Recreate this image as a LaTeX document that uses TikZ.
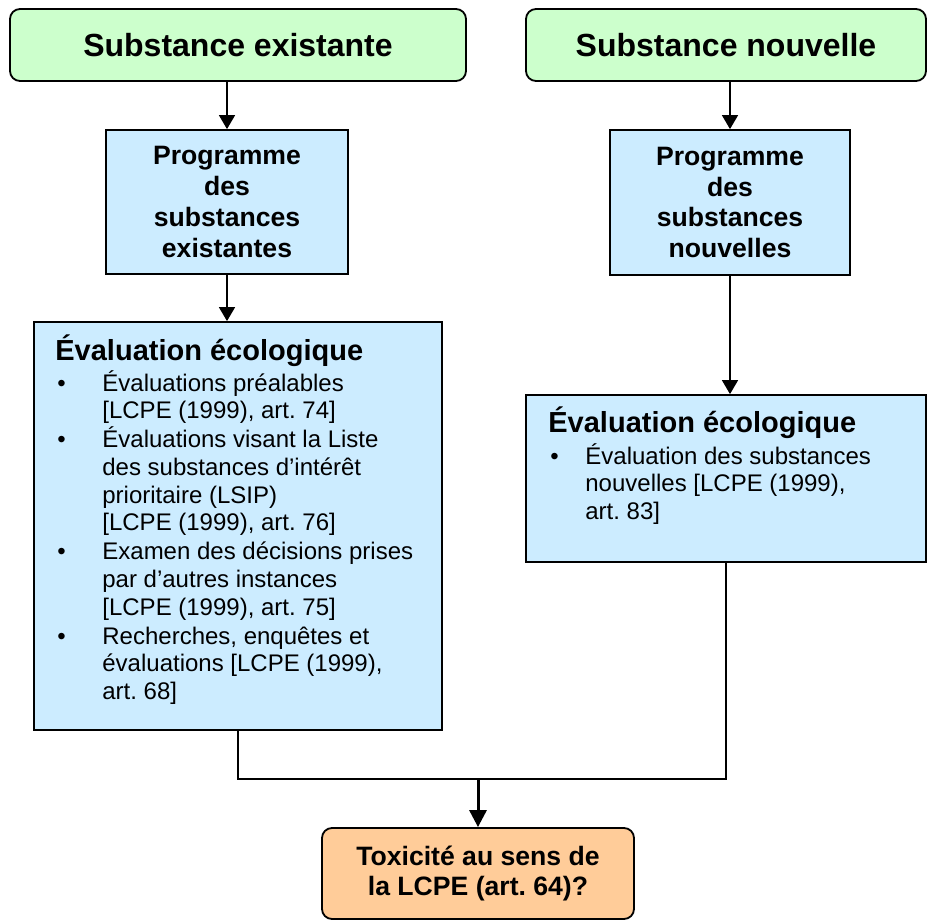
\documentclass[tikz,border=0pt]{standalone}
\usepackage{fontspec}
\setmainfont{Liberation Sans}
\usepackage{enumitem}
\usetikzlibrary{arrows.meta}
\usetikzlibrary{positioning}
\frenchspacing
\definecolor{mgreen}{HTML}{CCFFCC}
\definecolor{mblue}{HTML}{CCECFF}
\definecolor{morange}{HTML}{FFCC99}
\tikzset{startbox/.style = {draw, line width=0.9pt, rounded corners=5pt, fill=mgreen,
                            inner sep=0pt, font=\fontsize{16}{18}\selectfont\bfseries},
         progbox/.style = {draw, line width=0.9pt, fill=mblue, inner sep=0pt, align=center,
                           font=\fontsize{13.3}{15.4}\selectfont\bfseries},
         evalbox/.style = {draw, line width=0.9pt, fill=mblue, inner sep=0pt},
         endbox/.style = {draw, line width=0.9pt, rounded corners=5pt, fill=morange,
                          inner sep=0pt, align=center,
                          font=\fontsize{13.3}{15.4}\selectfont\bfseries},
         evaltext/.style = {anchor=base west, inner sep=0pt,
                            font=\fontsize{12}{13.85}\selectfont},
         flow/.style = {line width=0.8pt, -{Triangle[width=8pt, length=7pt]}},
         merge/.style = {line width=1.5pt, -{Triangle[width=8.5pt, length=8.5pt]}},
         link/.style = {line width=0.8pt}}
\newcommand{\evalhead}{{\fontsize{14.5}{16}\selectfont\bfseries Évaluation écologique}}

\begin{document}
\begin{tikzpicture}[x=0.5pt, y=-0.5pt]
    \useasboundingbox (0,0) rectangle (927,920);

    \node [startbox, minimum width=228pt, minimum height=36pt] (exist) at (238,45) {Substance existante};
    \node [startbox, minimum width=200pt, minimum height=36pt] (nouv) at (726,45) {Substance nouvelle};

    \node [progbox, minimum width=121pt, minimum height=72pt] (progexist) at (227,202)
          {Programme\\des\\substances\\existantes};
    \node [progbox, minimum width=120pt, minimum height=72.5pt] (prognouv) at (730,202.5)
          {Programme\\des\\substances\\nouvelles};

    \node [evalbox, minimum width=204pt, minimum height=204pt] (evalexist) at (238,526) {};
    \node [evalbox, minimum width=200pt, minimum height=83.5pt] (evalnouv) at (726,478.5) {};

    \node [evaltext] (evalexisttxt) at (55,360) {\parbox[t]{185pt}{\raggedright\evalhead
      \begin{itemize}[label=\textbullet, leftmargin=23.5pt, labelwidth=22.5pt, labelsep=0pt,
                      align=left, itemsep=0.6pt, topsep=1.7pt, parsep=0pt, partopsep=0pt]
        \item Évaluations préalables\newline [LCPE (1999), art. 74]
        \item Évaluations visant la Liste\newline des substances d’intérêt\newline
              prioritaire (LSIP)\newline [LCPE (1999), art. 76]
        \item Examen des décisions prises\newline par d’autres instances\newline
              [LCPE (1999), art. 75]
        \item Recherches, enquêtes et\newline évaluations [LCPE (1999),\newline art. 68]
      \end{itemize}}};
    \node [evaltext] (evalnouvtxt) at (548,432) {\parbox[t]{185pt}{\raggedright\evalhead
      \begin{itemize}[label=\textbullet, leftmargin=18.5pt, labelwidth=17.5pt, labelsep=0pt,
                      align=left, itemsep=0.6pt, topsep=2.2pt, parsep=0pt, partopsep=0pt]
        \item Évaluation des substances\newline nouvelles [LCPE (1999),\newline art. 83]
      \end{itemize}}};

    \node [endbox, minimum width=156pt, minimum height=45.5pt] (toxic) at (478,873.5)
          {Toxicité au sens de\\la LCPE (art. 64)?};

    \draw [flow] (progexist.north |- exist.south) -- (progexist.north);
    \draw [flow] (prognouv.north |- nouv.south) -- (prognouv.north);
    \draw [flow] (progexist.south) -- (progexist.south |- evalexist.north);
    \draw [flow] (prognouv.south) -- (prognouv.south |- evalnouv.north);

    \coordinate (join) at (478,779);
    \draw [link] (evalexist.south) |- (join) -| (evalnouv.south);
    \draw [merge] (join) -- (toxic.north);
\end{tikzpicture}
\end{document}
